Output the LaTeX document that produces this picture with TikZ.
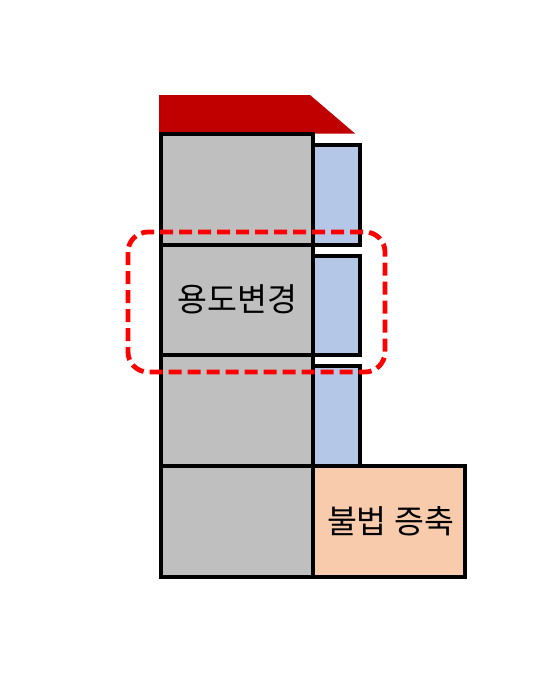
\documentclass[tikz,border=0pt]{standalone}
\usepackage{fontspec}
\newfontfamily\kr{Noto Sans CJK KR}
\definecolor{roofred}{HTML}{C00000}
\definecolor{floorgray}{HTML}{BFBFBF}
\definecolor{winblue}{HTML}{B4C7E7}
\definecolor{addorange}{HTML}{F8CBAD}
\definecolor{dashred}{HTML}{FF0000}
\begin{document}
\begin{tikzpicture}[x=1pt,y=-1pt,
  wall/.style={draw=black,line width=3.2pt},
  label/.style={font=\kr\fontsize{32.5}{38}\selectfont,inner sep=0pt}]
\useasboundingbox (0,0) rectangle (552,677);
% roof
\fill[roofred] (159,95) -- (310,95) -- (355,133.5) -- (159,133.5) -- cycle;
% blue side boxes
\filldraw[wall,fill=winblue] (313,145) rectangle (360,245);
\filldraw[wall,fill=winblue] (313,256) rectangle (360,355);
\filldraw[wall,fill=winblue] (313,366) rectangle (360,466);
% orange addition
\filldraw[wall,fill=addorange] (313,466) rectangle (465,577);
% gray floors
\filldraw[wall,fill=floorgray] (161,134) rectangle (313,245);
\filldraw[wall,fill=floorgray] (161,245) rectangle (313,355);
\filldraw[wall,fill=floorgray] (161,355) rectangle (313,466);
\filldraw[wall,fill=floorgray] (161,466) rectangle (313,577);
% labels
\node[label] (use) at (237.5,299) {용도변경};
\node[label] (illegal) at (390.5,521) {불법 증축};
% dashed highlight
\draw[dashred,line width=4.8pt,dash pattern=on 13pt off 6pt,rounded corners=20pt] (128,232) rectangle (385,372);
\end{tikzpicture}
\end{document}
